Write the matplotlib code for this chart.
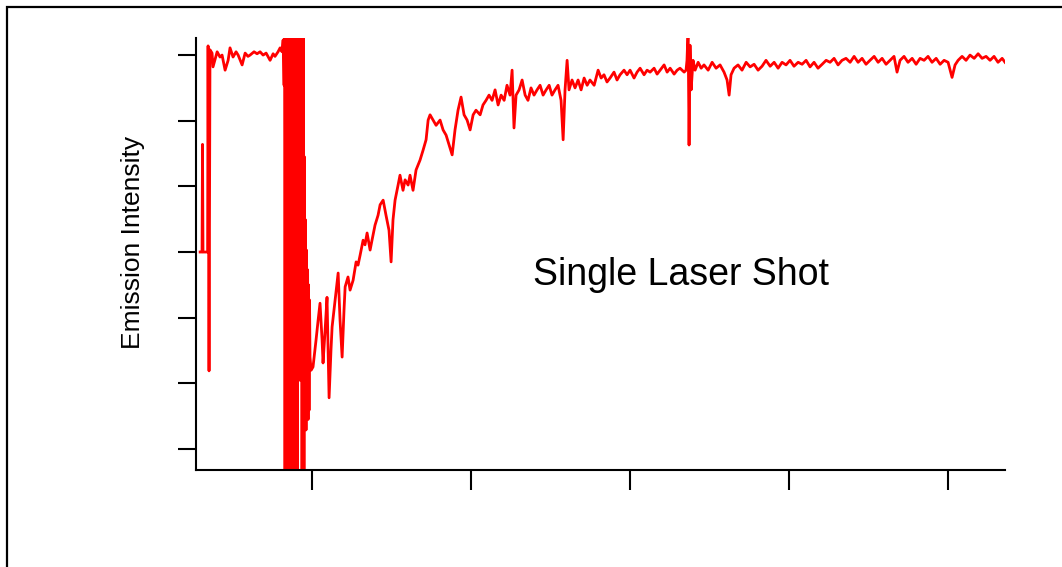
import matplotlib
matplotlib.use('Agg')
import matplotlib.pyplot as plt
from matplotlib.patches import Rectangle

# time axis (arbitrary units, unlabeled ticks at 1..5) and emission intensity (ticks at 0..6)
# lead-in: baseline, small spike, then the detector saturates at the plateau
t_lead = [0.296, 0.308, 0.311, 0.314, 0.343, 0.346, 0.352, 0.358,
          0.371, 0.377, 0.403, 0.421, 0.434, 0.453, 0.472, 0.484, 0.503, 0.522,
          0.535, 0.560, 0.579, 0.597, 0.610, 0.635, 0.654, 0.673, 0.692, 0.711,
          0.736, 0.755, 0.767, 0.786, 0.799, 0.811, 0.818]
i_lead = [3.00, 3.00, 4.64, 3.00, 3.00, 6.14, 1.19, 6.08,
          6.03, 5.82, 6.05, 5.97, 6.00, 5.77, 5.92, 6.11, 5.97, 6.05,
          6.00, 5.85, 6.03, 5.98, 6.00, 6.05, 6.02, 6.05, 6.00, 6.03,
          5.92, 6.02, 5.98, 6.05, 6.11, 6.05, 6.23]

# laser shot: ringing that runs off both ends of the scale
t_shot = [0.824, 0.827, 0.830, 0.833, 0.836, 0.840, 0.843, 0.846, 0.849, 0.852,
          0.855, 0.858, 0.862, 0.865, 0.868, 0.871, 0.874, 0.877, 0.881, 0.884,
          0.887, 0.890, 0.893, 0.896, 0.899, 0.903, 0.906, 0.909, 0.912, 0.915,
          0.918, 0.921, 0.925, 0.928, 0.931, 0.934, 0.937, 0.940, 0.943, 0.946,
          0.949, 0.952, 0.956, 0.959, 0.962, 0.965, 0.969, 0.972, 0.975, 0.978,
          0.981, 0.984, 0.987, 0.994]
i_shot = [5.54, 6.6, -0.6, 6.6, -0.6, 6.6, -0.6, 6.6, -0.6, 6.6,
          -0.6, 6.6, -0.6, 6.6, -0.6, 6.6, -0.6, 6.6, -0.6, 6.6,
          -0.6, 6.6, -0.6, 6.6, -0.6, 6.6, -0.6, 6.6, 1.05, 6.6,
          1.05, 6.6, 1.05, 6.6, 1.30, 6.6, -0.6, 6.6, -0.6, 6.6,
          -0.6, 4.45, 0.59, 3.49, 0.29, 3.03, 0.75, 2.73, 0.45, 2.50,
          0.59, 2.27, 1.40, 1.20]

# recovery back towards the plateau
t_rec = [1.006, 1.025, 1.038, 1.050, 1.063, 1.069, 1.082, 1.094, 1.107, 1.119,
         1.126, 1.145, 1.164, 1.176, 1.189, 1.201, 1.208, 1.226, 1.239, 1.258,
         1.277, 1.289, 1.302, 1.321, 1.333, 1.346, 1.365, 1.377, 1.396, 1.415,
         1.428, 1.447, 1.465, 1.484, 1.497, 1.509, 1.522, 1.541, 1.553, 1.572,
         1.585, 1.604, 1.616, 1.635, 1.654, 1.679, 1.698, 1.717, 1.730, 1.742,
         1.761, 1.780, 1.805, 1.824, 1.843, 1.862, 1.881, 1.899, 1.918, 1.937,
         1.956, 1.975, 1.994, 2.013, 2.031, 2.057, 2.075, 2.094, 2.113, 2.132,
         2.151, 2.170, 2.189, 2.208, 2.226, 2.245, 2.258, 2.270, 2.283, 2.302,
         2.321, 2.340, 2.358, 2.377, 2.396, 2.415, 2.434, 2.453, 2.472, 2.491,
         2.509, 2.528, 2.547, 2.566, 2.579, 2.591, 2.604, 2.616, 2.635, 2.654,
         2.673, 2.692, 2.711, 2.730, 2.748, 2.774, 2.799, 2.818, 2.836, 2.855,
         2.874, 2.899, 2.918, 2.937, 2.962, 2.981, 3.000, 3.025, 3.044, 3.063,
         3.088, 3.107, 3.126, 3.151, 3.170, 3.189, 3.214, 3.233, 3.252, 3.277,
         3.296, 3.314, 3.340, 3.352, 3.358, 3.365, 3.371, 3.377, 3.384, 3.396,
         3.409, 3.428, 3.447, 3.465, 3.491, 3.516, 3.541, 3.566, 3.591, 3.610,
         3.623, 3.635, 3.654, 3.679, 3.704, 3.730, 3.755, 3.780, 3.805, 3.830,
         3.855, 3.881, 3.906, 3.931, 3.956, 3.981, 4.006, 4.031, 4.057, 4.082,
         4.107, 4.132, 4.157, 4.182, 4.208, 4.233, 4.258, 4.283, 4.308, 4.333,
         4.358, 4.384, 4.409, 4.434, 4.459, 4.484, 4.509, 4.535, 4.560, 4.585,
         4.610, 4.635, 4.660, 4.679, 4.698, 4.723, 4.748, 4.774, 4.799, 4.824,
         4.849, 4.874, 4.899, 4.925, 4.950, 4.975, 5.000, 5.025, 5.044, 5.063,
         5.088, 5.113, 5.138, 5.164, 5.189, 5.214, 5.239, 5.264, 5.289, 5.314,
         5.340, 5.358]
i_rec = [1.25, 1.66, 1.96, 2.22, 1.66, 1.31, 1.81, 2.31, 0.78, 1.51,
         1.86, 2.27, 2.68, 1.96, 1.40, 2.12, 2.47, 2.62, 2.42, 2.57,
         2.85, 2.80, 2.95, 3.18, 3.11, 3.29, 3.03, 3.18, 3.41, 3.56,
         3.72, 3.79, 3.56, 3.33, 2.85, 3.49, 3.79, 4.02, 4.17, 3.94,
         4.10, 4.02, 4.17, 3.94, 4.25, 4.40, 4.55, 4.71, 5.01, 5.09,
         5.01, 4.93, 5.01, 4.86, 4.78, 4.63, 4.48, 4.86, 5.16, 5.36,
         5.09, 5.01, 4.86, 5.09, 5.16, 5.09, 5.24, 5.31, 5.39, 5.31,
         5.47, 5.24, 5.39, 5.31, 5.54, 5.39, 5.77, 4.89, 5.39, 5.47,
         5.62, 5.39, 5.31, 5.50, 5.39, 5.47, 5.54, 5.39, 5.47, 5.54,
         5.39, 5.47, 5.54, 5.31, 4.71, 5.47, 5.92, 5.47, 5.62, 5.50,
         5.62, 5.47, 5.65, 5.54, 5.62, 5.54, 5.77, 5.65, 5.70, 5.59,
         5.65, 5.74, 5.62, 5.70, 5.77, 5.70, 5.77, 5.65, 5.74, 5.80,
         5.70, 5.77, 5.74, 5.80, 5.71, 5.77, 5.85, 5.74, 5.80, 5.71,
         5.77, 5.80, 5.74, 5.77, 5.92, 6.40, 4.63, 6.15, 5.47, 5.92,
         5.77, 5.89, 5.80, 5.85, 5.77, 5.89, 5.80, 5.85, 5.74, 5.62,
         5.39, 5.70, 5.80, 5.85, 5.77, 5.89, 5.82, 5.86, 5.77, 5.83,
         5.92, 5.83, 5.89, 5.80, 5.89, 5.85, 5.92, 5.83, 5.89, 5.86,
         5.92, 5.82, 5.89, 5.80, 5.86, 5.92, 5.89, 5.95, 5.85, 5.92,
         5.95, 5.89, 5.98, 5.89, 5.95, 5.86, 5.92, 5.98, 5.89, 5.95,
         5.86, 5.92, 5.98, 5.74, 5.92, 5.98, 5.89, 5.95, 5.86, 5.95,
         5.92, 5.98, 5.89, 5.95, 5.86, 5.92, 5.89, 5.66, 5.85, 5.92,
         5.98, 5.92, 6.00, 5.95, 6.02, 5.95, 5.98, 5.92, 5.98, 5.89,
         5.95, 5.89]

x_ticks = [1, 2, 3, 4, 5]
y_ticks = [0, 1, 2, 3, 4, 5, 6]

plt.rcParams['font.family'] = ['Liberation Sans', 'DejaVu Sans']
plt.rcParams['path.simplify'] = False  # keep every spike of the ringing

W, H = 1062, 567
fig = plt.figure(figsize=(W / 100, H / 100), dpi=100)
ax = fig.add_axes([196 / W, 1 - 470 / H, (1005 - 196) / W, (470 - 38) / H])

t = t_lead + t_shot + t_rec
inten = i_lead + i_shot + i_rec
ax.plot(t, inten, color='#ff0000', lw=2.0)

ax.set_xlim(0.270, 5.358)
ax.set_ylim(-0.32, 6.26)
ax.set_xticks(x_ticks)
ax.set_yticks(y_ticks)
ax.set_xticklabels([])
ax.set_yticklabels([])
for s in ('top', 'right'):
    ax.spines[s].set_visible(False)
for s in ('left', 'bottom'):
    ax.spines[s].set_linewidth(1.5)
ax.tick_params(axis='y', direction='out', length=13, width=1.5)
ax.tick_params(axis='x', direction='out', length=14.5, width=1.5)

fig.text(681 / W, 1 - 285 / H, 'Single Laser Shot', ha='center', va='baseline', fontsize=27)
fig.text(133 / W, 1 - 242.5 / H, 'Emission Intensity', rotation=90,
         ha='center', va='center', fontsize=19)

# outer frame (only its top and left edges fall inside the image)
fig.add_artist(Rectangle((7 / W, -0.2), 1.3, 1.2 - 7 / H, transform=fig.transFigure,
                         fill=False, edgecolor='black', lw=1.6))

fig.savefig('out.png', dpi=100)
